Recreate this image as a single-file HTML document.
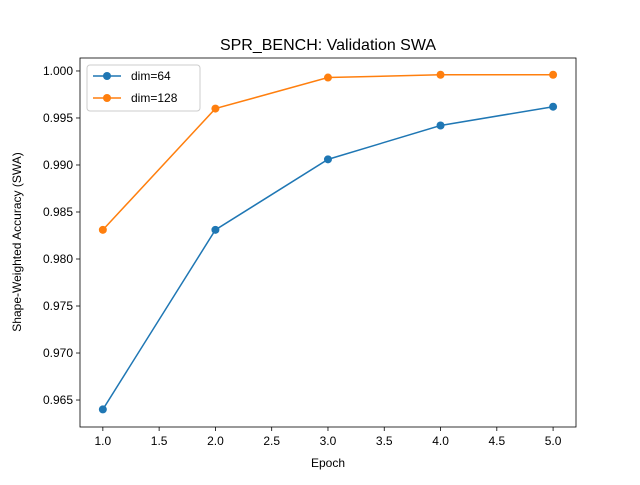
<!DOCTYPE html>
<html><head><meta charset="utf-8"><style>
body{margin:0;background:#fff}
svg{font-family:"Liberation Sans","DejaVu Sans",sans-serif}
</style></head><body>
<svg id="chart" width="640" height="480" xmlns="http://www.w3.org/2000/svg">
<rect width="640" height="480" fill="#fff"/>
<text x="328" y="50" font-size="16" text-anchor="middle">SPR_BENCH: Validation SWA</text>
<g id="grid"></g>
<g id="series"></g>
<rect x="80" y="58" width="496" height="369" fill="none" stroke="#000" stroke-width="0.8"/>
<text x="328" y="467" font-size="12" text-anchor="middle">Epoch</text>
<text x="21" y="242" font-size="12" text-anchor="middle" transform="rotate(-90 21 242)">Shape-Weighted Accuracy (SWA)</text>
<g>
<rect x="87" y="65" width="113" height="46" rx="3" fill="#fff" stroke="#ccc"/>
<line x1="93" y1="76" x2="121" y2="76" stroke="#1f77b4" stroke-width="1.5"/>
<circle cx="107" cy="76" r="4" fill="#1f77b4"/>
<text x="131" y="80" font-size="12">dim=64</text>
<line x1="93" y1="98" x2="121" y2="98" stroke="#ff7f0e" stroke-width="1.5"/>
<circle cx="107" cy="98" r="4" fill="#ff7f0e"/>
<text x="131" y="102" font-size="12">dim=128</text>
</g>
</svg>
<script>
const epochs=[1,2,3,4,5];
const dim64=[0.9640,0.9831,0.9906,0.9942,0.9962];
const dim128=[0.9831,0.9960,0.9993,0.9996,0.9996];
const xTicks=[1.0,1.5,2.0,2.5,3.0,3.5,4.0,4.5,5.0];
const yTicks=[0.965,0.970,0.975,0.980,0.985,0.990,0.995,1.000];
const NS="http://www.w3.org/2000/svg";
const X0=80,X1=576,Y0=427,Y1=58,xmin=0.797,xmax=5.2035,ymin=0.96213,ymax=1.00138;
function sx(v){return X0+(v-xmin)/(xmax-xmin)*(X1-X0);}
function sy(v){return Y0-(v-ymin)/(ymax-ymin)*(Y0-Y1);}
function mk(t,a,p){const e=document.createElementNS(NS,t);for(const k in a)e.setAttribute(k,a[k]);p.appendChild(e);return e;}
const g=document.getElementById('grid');
xTicks.forEach(t=>{const x=sx(t);
mk('line',{x1:x,x2:x,y1:Y0,y2:Y0+4,stroke:'#000','stroke-width':0.8},g);
const tx=mk('text',{x:x,y:Y0+18,'font-size':12,'text-anchor':'middle'},g);tx.textContent=t.toFixed(1);

});
yTicks.forEach(t=>{const y=sy(t);
mk('line',{x1:X0-4,x2:X0,y1:y,y2:y,stroke:'#000','stroke-width':0.8},g);
const tx=mk('text',{x:X0-7,y:y+4,'font-size':12,'text-anchor':'end'},g);tx.textContent=t.toFixed(3);

});
const s=document.getElementById('series');
[[dim64,'#1f77b4','dim64'],[dim128,'#ff7f0e','dim128']].forEach(([d,c,n])=>{
const pl=mk('polyline',{points:epochs.map((e,i)=>sx(e)+','+sy(d[i])).join(' '),fill:'none',stroke:c,'stroke-width':1.5},s);


epochs.forEach((e,i)=>{const p=mk('circle',{cx:sx(e),cy:sy(d[i]),r:4,fill:c},s);

});});
</script>
</body></html>
